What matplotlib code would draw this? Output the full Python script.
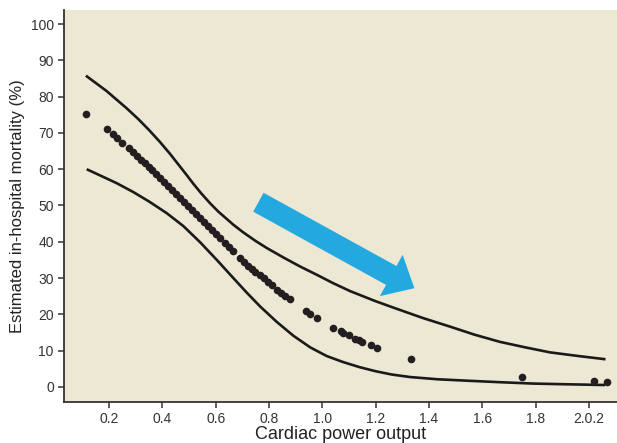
import numpy as np
import matplotlib
matplotlib.use("Agg")
import matplotlib.pyplot as plt

plt.rcParams['font.family'] = ['Liberation Sans', 'DejaVu Sans']

# estimated mortality for each patient (dots)
cpo = [0.114, 0.191, 0.216, 0.230, 0.248,
       0.275, 0.290, 0.305, 0.320, 0.335, 0.350, 0.361, 0.376, 0.391, 0.406,
       0.421, 0.436, 0.451, 0.466, 0.481, 0.496, 0.511, 0.526, 0.541, 0.556,
       0.571, 0.586, 0.601, 0.616, 0.635, 0.650, 0.665, 0.691, 0.706, 0.721,
       0.736, 0.747, 0.766, 0.781, 0.796, 0.811, 0.830, 0.845, 0.860, 0.879,
       0.939, 0.954, 0.979, 1.041, 1.070, 1.076, 1.101, 1.122, 1.137, 1.148,
       1.182, 1.206, 1.332, 1.747, 2.019, 2.068]
mortality = [75.2, 71.0, 69.7, 68.6, 67.2,
             65.8, 64.8, 63.7, 62.6, 61.6, 60.6, 59.8, 58.7, 57.6, 56.5,
             55.4, 54.3, 53.2, 52.1, 51.0, 49.9, 48.8, 47.7, 46.6, 45.4,
             44.3, 43.2, 42.1, 41.0, 39.7, 38.5, 37.4, 35.5, 34.4, 33.4,
             32.5, 31.6, 30.8, 29.9, 28.9, 28.1, 26.7, 25.9, 25.0, 24.2,
             21.0, 20.2, 19.0, 16.3, 15.4, 14.9, 14.2, 13.3, 12.9, 12.5,
             11.5, 10.6, 7.8, 2.7, 1.5, 1.2]

# confidence band
upper_x = [0.113, 0.19, 0.266, 0.310, 0.35, 0.391, 0.429, 0.46, 0.491, 0.516,
           0.545, 0.579, 0.610, 0.666, 0.703, 0.75, 0.791, 0.853, 0.916, 0.979,
           1.04, 1.104, 1.2, 1.291, 1.38, 1.479, 1.57, 1.666, 1.76, 1.854,
           1.96, 2.062]
upper_y = [85.8, 81.6, 76.8, 73.8, 70.8, 67.5, 64.2, 61.3, 58.4, 56.0,
           53.4, 50.6, 48.3, 44.7, 42.6, 40.2, 38.3, 35.7, 33.2, 30.9,
           28.6, 26.4, 23.6, 21.2, 18.9, 16.6, 14.4, 12.4, 10.9, 9.5,
           8.5, 7.6]
lower_x = [0.116, 0.166, 0.23, 0.291, 0.35, 0.416, 0.479, 0.541, 0.604, 0.666,
           0.716, 0.766, 0.829, 0.891, 0.954, 1.016, 1.079, 1.141, 1.2, 1.26,
           1.329, 1.43, 1.541, 1.66, 1.791, 1.92, 2.06]
lower_y = [60.0, 58.3, 56.1, 53.7, 51.1, 47.9, 44.3, 39.9, 35.0, 30.0,
           26.0, 22.2, 17.9, 14.1, 10.9, 8.5, 6.8, 5.4, 4.3, 3.4,
           2.7, 2.1, 1.7, 1.3, 0.9, 0.7, 0.5]

xticks = [0.2, 0.4, 0.6, 0.8, 1.0, 1.2, 1.4, 1.6, 1.8, 2.0]
xticklabels = ['0.2', '0.4', '0.6', '0.8', '1.0', '1.2', '1.4', '1.6', '1.8', '2.0.2']
yticks = list(range(0, 101, 10))

fig = plt.figure(figsize=(6.17, 4.43), dpi=100)
ax = fig.add_axes([0.1042, 0.0932, 0.8958, 0.8842])
ax.set_facecolor('#ECE8D4')

ax.plot(upper_x, upper_y, color='#1a1a1a', lw=1.9, solid_capstyle='butt')
ax.plot(lower_x, lower_y, color='#1a1a1a', lw=1.9, solid_capstyle='butt')
ax.plot(cpo, mortality, 'o', color='#231F20', markersize=5.5, markeredgewidth=0)

# blue arrow
ax.annotate('', xy=(1.345, 27.2), xytext=(0.76, 50.9),
            arrowprops=dict(arrowstyle='simple,head_length=19,head_width=34,tail_width=15.5',
                            color='#23A8E0', mutation_scale=1, shrinkA=0, shrinkB=0, lw=0))

ax.set_xlim(0.032, 2.105)
ax.set_ylim(-4.1, 103.9)
ax.set_xticks(xticks)
ax.set_xticklabels(xticklabels)
ax.set_yticks(yticks)

for s in ['top', 'right']:
    ax.spines[s].set_visible(False)
for s in ['left', 'bottom']:
    ax.spines[s].set_color('#333333')
    ax.spines[s].set_linewidth(1.3)
ax.tick_params(axis='both', direction='out', length=4.5, width=1.1, color='#333333',
               labelsize=10, labelcolor='#333333', pad=3)

ax.set_ylabel('Estimated in-hospital mortality (%)', fontsize=12, color='#222222', labelpad=4)
ax.set_xlabel('Cardiac power output', fontsize=13, color='#222222', labelpad=0)

fig.savefig('out.png', dpi=100)
